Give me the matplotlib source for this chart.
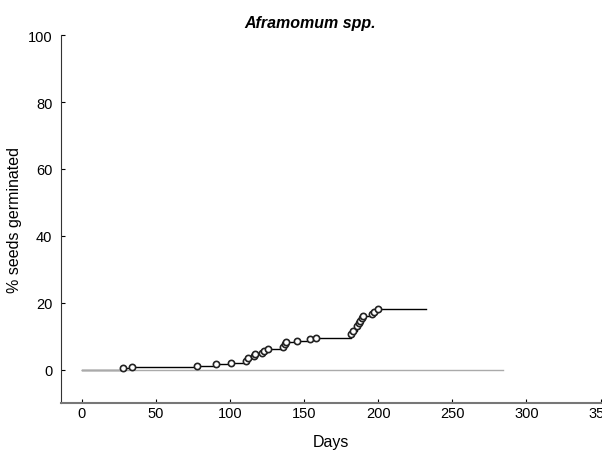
import numpy as np
import matplotlib.pyplot as plt

plt.rcParams['font.family'] = ['Liberation Sans', 'DejaVu Sans']

# germination events (days, cumulative % germinated)
days = [28, 34, 78, 91, 101, 111, 112, 116, 117, 122, 123, 126, 136, 137, 138,
        145, 154, 158, 182, 183, 186, 187, 188, 189, 190, 196, 197, 200]
pct = [0.4, 0.8, 1.2, 1.6, 2.1, 2.6, 3.6, 4.2, 4.8, 5.1, 5.7, 6.3, 6.9, 7.8, 8.4,
       8.7, 9.3, 9.6, 10.8, 11.7, 12.9, 13.8, 14.4, 15.3, 15.9, 16.5, 17.1, 18.0]
end_day = 232
ref_end = 284

fig = plt.figure(figsize=(6.02, 4.52), dpi=100)
ax = fig.add_axes([0.101, 0.106, 0.899, 0.814])

# step curve from day 0 to end of trial
sx = [0] + days + [end_day]
sy = [0] + pct + [pct[-1]]
ax.step(sx, sy, where='post', color='black', lw=1.0)
ax.plot([0, ref_end], [0, 0], color='#aaaaaa', lw=1.0)
ax.plot(days, pct, 'o', ms=4.5, mfc='white', mec='#222222', mew=1.2)

ax.set_xlim(-14, 351)
ax.set_ylim(-10, 100)
ax.set_xticks(np.arange(0, 351, 50))
ax.set_yticks(np.arange(0, 101, 20))
ax.tick_params(direction='in', length=3, labelsize=10.5)
ax.tick_params(axis='x', pad=2)
ax.tick_params(axis='y', pad=6)
for s in ['top', 'right']:
    ax.spines[s].set_visible(False)
ax.spines['bottom'].set_color('#777777')
ax.spines['bottom'].set_linewidth(1.5)
ax.spines['left'].set_color('#333333')

ax.set_xlabel('Days', fontsize=11.5, labelpad=10)
ax.set_ylabel('% seeds germinated', fontsize=11.5)
ax.set_title('Aframomum spp.', fontsize=11.5, fontweight='bold', style='italic', x=0.46)

plt.savefig('out.png', dpi=100)
